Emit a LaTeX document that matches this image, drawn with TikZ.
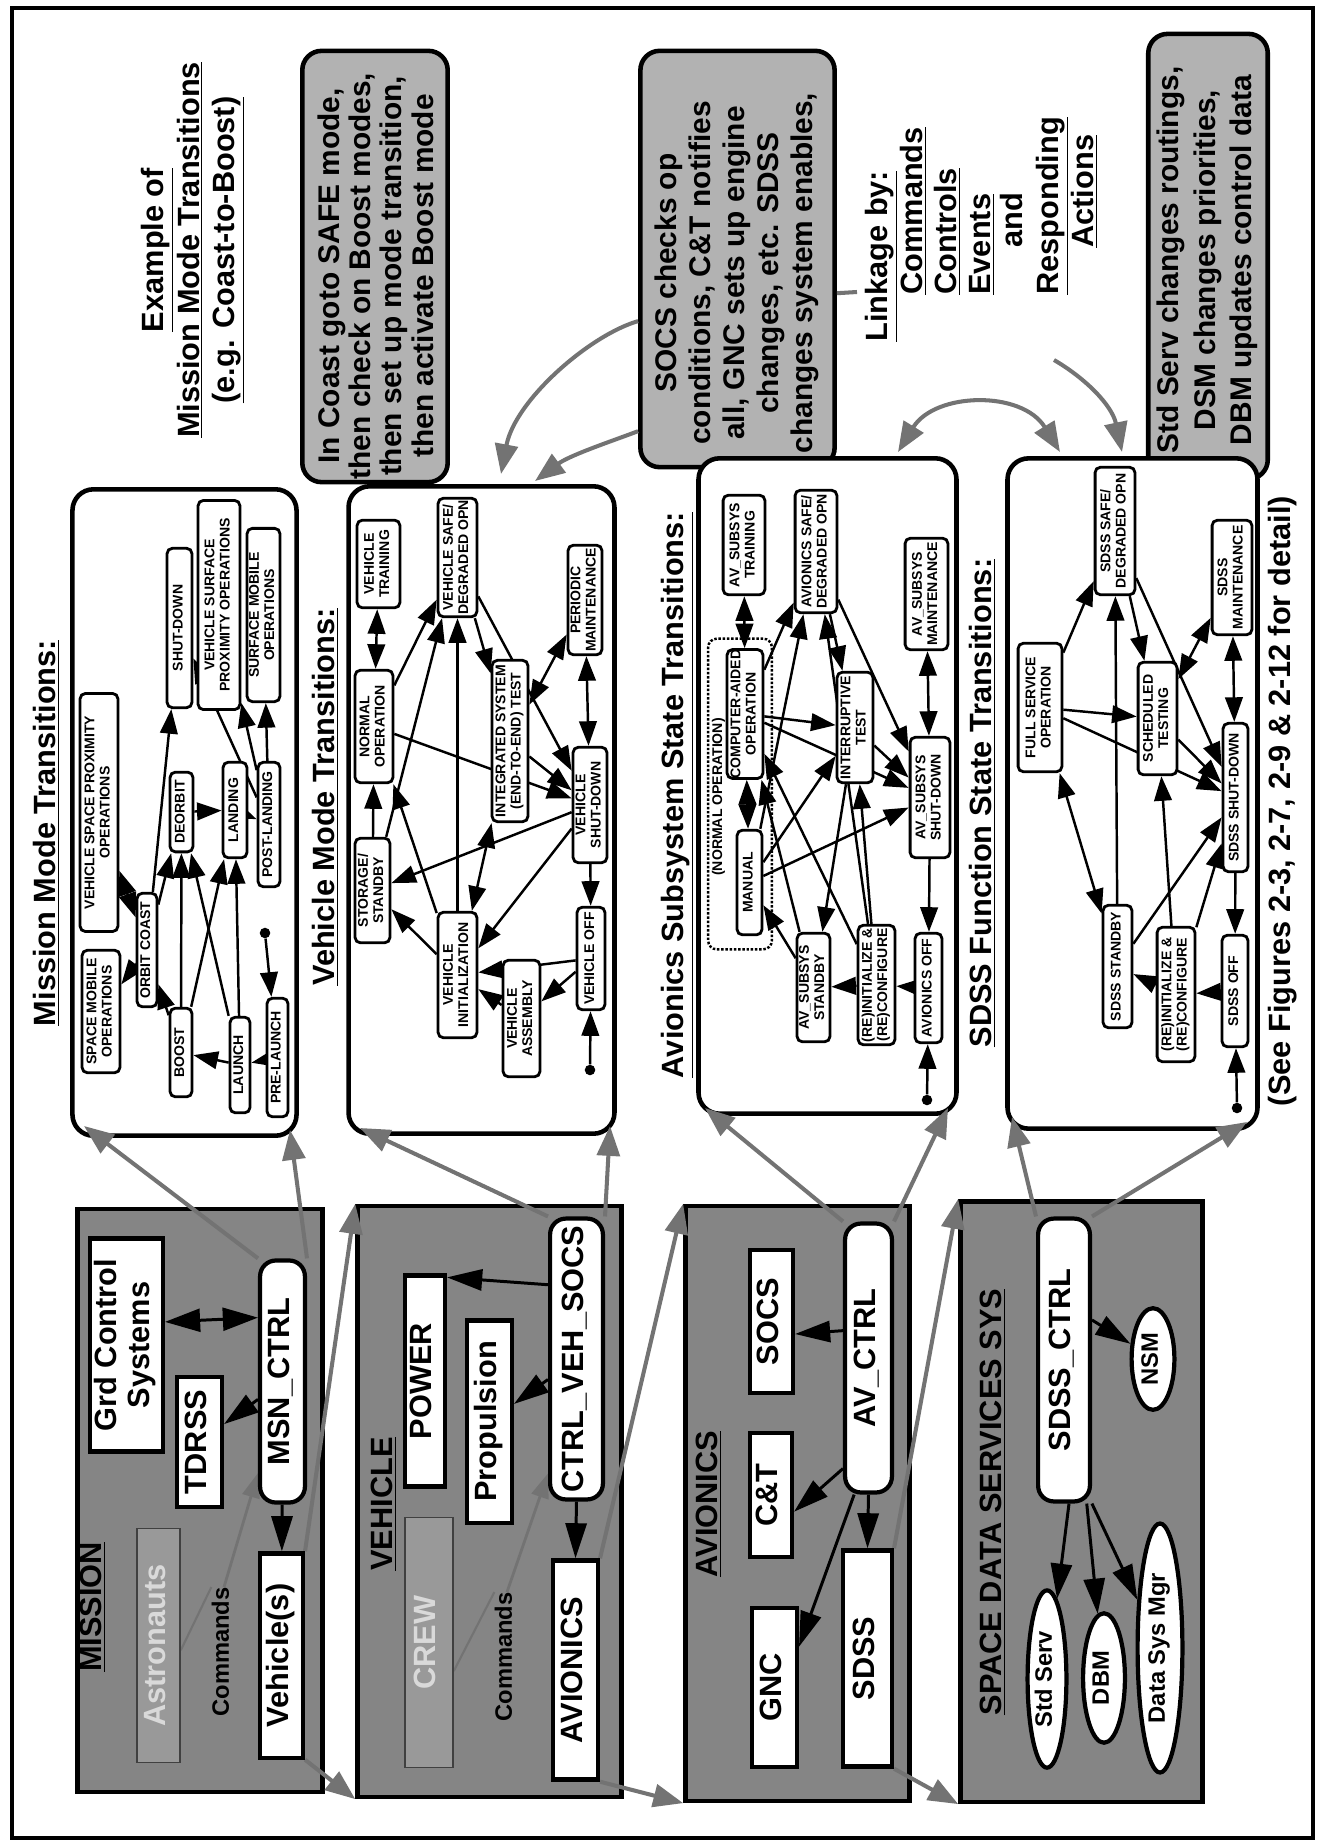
\documentclass[tikz,border=0pt]{standalone}
\usepackage{graphicx}
\usepackage{fontspec}
\setmainfont{Liberation Sans}
\usetikzlibrary{arrows.meta,shapes.geometric,calc}
\pgfdeclarelayer{back}
\pgfdeclarelayer{mid}
\pgfsetlayers{back,mid,main}
\newcommand\R[1]{\rotatebox{90}{\begin{tabular}{@{}c@{}}#1\end{tabular}}}
\newcommand\BX[7]{\node[#1,minimum width={(#5-#3)*0.5669pt},minimum height={(#6-#4)*0.5669pt}] (#2) at ({(#3+#5)/2},{(#4+#6)/2}) {\R{#7}};}
\newcommand\fB{\bfseries\fontsize{17.5}{18.5}\selectfont}
\newcommand\fI{\bfseries\fontsize{8}{8.7}\selectfont}
\newcommand\fS{\bfseries\fontsize{13.5}{14}\selectfont}
\tikzset{
 gbox/.style={draw, line width=2.6pt, fill=black!48, inner sep=0pt},
 wbox/.style={draw, line width=2.4pt, fill=white, inner sep=0pt, font=\fB},
 wrnd/.style={wbox, rounded corners=9pt},
 ghost/.style={draw=black!75, line width=1pt, fill=black!40, text=black!15, inner sep=0pt, font=\fB},
 panel/.style={draw, line width=2.6pt, fill=white, rounded corners=12pt, inner sep=0pt},
 callout/.style={draw, line width=2.6pt, fill=black!30, rounded corners=11pt, inner sep=0pt},
 st/.style={draw, line width=1.6pt, fill=white, rounded corners=3pt, inner sep=0pt, font=\fI},
 ndot/.style={draw, densely dotted, line width=1.4pt, rounded corners=5pt, inner sep=0pt},
 ell/.style={draw, ellipse, line width=2.4pt, fill=white, inner sep=0pt, font=\fS},
 lbl/.style={inner sep=0pt, font=\fB},
 dotn/.style={circle, fill, inner sep=0pt, minimum size=6pt},
 ar/.style={line width=1.4pt, -{Triangle[length=14pt,width=10pt]}},
 dar/.style={line width=1.4pt, arrows={Triangle[length=14pt,width=10pt]-Triangle[length=14pt,width=10pt]}},
 bar/.style={line width=1.7pt, -{Triangle[length=20pt,width=12pt]}},
 dbar/.style={line width=1.7pt, arrows={Triangle[length=20pt,width=13pt]-Triangle[length=20pt,width=13pt]}},
 har/.style={draw=black!55, line width=2.3pt, -{Triangle[length=17pt,width=13pt]}},
 dhar/.style={draw=black!55, line width=2.3pt, arrows={Triangle[length=17pt,width=13pt]-Triangle[length=17pt,width=13pt]}},
 thar/.style={draw=black!55, line width=1.6pt, -{Triangle[length=14pt,width=10pt]}},
 hline/.style={draw=black!55, line width=1.2pt},
}
\begin{document}
\begin{tikzpicture}[x=0.02cm,y=-0.02cm]
\useasboundingbox (0,0) rectangle (1317,1841);
\draw[line width=1.9pt] (12,8) rectangle (1313,1838);

% ================= background shapes =================
\begin{pgfonlayer}{back}
\BX{callout}{c1}{302}{50}{448}{483}{}
\BX{callout}{c2}{640}{50}{835}{468}{}
\BX{callout}{c3}{1148}{33}{1268}{480}{}
\BX{panel}{pM}{72}{488}{297}{1137}{}
\BX{panel}{pV}{348}{485}{615}{1135}{}
\BX{panel}{pA}{698}{457}{957}{1115}{}
\BX{panel}{pS}{1007}{457}{1258}{1130}{}
\BX{gbox}{gM}{77}{1208}{323}{1793}{}
\BX{gbox}{gV}{357}{1205}{622}{1798}{}
\BX{gbox}{gA}{685}{1205}{910}{1802}{}
\BX{gbox}{gS}{960}{1200}{1203}{1803}{}
\end{pgfonlayer}

% ---------- titles ----------
\node[lbl] (tMM) at (49,833) {\R{\underline{Mission Mode Transitions:}}};
\node[lbl] (tVM) at (328,797) {\R{\underline{Vehicle Mode Transitions:}}};
\node[lbl] (tAS) at (677,795) {\R{\underline{Avionics Subsystem State Transitions:}}};
\node[lbl] (tSF) at (985,803) {\R{\underline{SDSS Function State Transitions:}}};
\node[lbl] (tSee) at (1284,801) {\R{(See Figures 2-3, 2-7, 2-9 \& 2-12 for detail)}};
\node[lbl, font=\bfseries\fontsize{17.5}{20}\selectfont] (tEx) at (192,250) {\R{\underline{Example of}\\\underline{Mission Mode Transitions}\\\underline{(e.g. Coast-to-Boost)}}};

% ---------- linkage ----------
\node[lbl, anchor=south] (lk1) at (881,342) {\R{\underline{Linkage by:}}};
\node[lbl, anchor=south] (lk2) at (916,295) {\R{\underline{Commands}}};
\node[lbl, anchor=south] (lk3) at (950,295) {\R{\underline{Controls}}};
\node[lbl, anchor=south] (lk4) at (984,295) {\R{\underline{Events}}};
\node[lbl, anchor=south] (lk5) at (1016,248) {\R{and}};
\node[lbl, anchor=south] (lk6) at (1052,295) {\R{\underline{Responding}}};
\node[lbl, anchor=south] (lk7) at (1087,248) {\R{\underline{Actions}}};

% ---------- callout texts ----------
\node[lbl, font=\bfseries\fontsize{17}{17.8}\selectfont] (c1t) at (380,276) {\R{In Coast goto SAFE mode,\\then check on Boost modes,\\then set up mode transition,\\then activate Boost mode}};
\node[lbl, font=\bfseries\fontsize{17}{19.4}\selectfont] (c2t) at (738,273) {\R{SOCS checks op\\conditions, C\&T notifies\\all, GNC sets up engine\\changes, etc. SDSS\\changes system enables,}};
\node[lbl, font=\bfseries\fontsize{17}{20.7}\selectfont] (c3t) at (1208,260) {\R{Std Serv changes routings,\\DSM changes priorities,\\DBM updates control data}};

% ---------- mission modes ----------
\BX{st}{m1}{80}{693}{118}{932}{VEHICLE SPACE PROXIMITY\\OPERATIONS}
\BX{st}{m2}{137}{893}{157}{1007}{ORBIT COAST}
\BX{st}{m3}{82}{950}{120}{1073}{SPACE MOBILE\\OPERATIONS}
\BX{st}{m4}{170}{1008}{192}{1097}{BOOST}
\BX{st}{m5}{230}{1017}{250}{1113}{LAUNCH}
\BX{st}{m6}{267}{998}{288}{1117}{PRE-LAUNCH}
\BX{st}{m7}{170}{772}{193}{852}{DEORBIT}
\BX{st}{m8}{223}{762}{247}{858}{LANDING}
\BX{st}{m9}{258}{762}{280}{887}{POST-LANDING}
\BX{st}{m10}{167}{548}{192}{708}{SHUT-DOWN}
\BX{st}{m11}{198}{500}{240}{710}{VEHICLE SURFACE\\PROXIMITY OPERATIONS}
\BX{st}{m12}{247}{528}{280}{702}{SURFACE MOBILE\\OPERATIONS}
\node[dotn] (mdot) at (265,933) {};

% ---------- vehicle modes ----------
\BX{st}{v1}{357}{520}{400}{608}{VEHICLE\\TRAINING}
\BX{st}{v2}{355}{670}{393}{783}{NORMAL\\OPERATION}
\BX{st}{v3}{355}{838}{390}{943}{STORAGE/\\STANDBY}
\BX{st}{v4}{438}{498}{477}{617}{VEHICLE SAFE/\\DEGRADED OPN}
\BX{st}{v5}{492}{660}{528}{822}{INTEGRATED SYSTEM\\(END-TO-END) TEST}
\BX{st}{v6}{568}{545}{602}{655}{PERIODIC\\MAINTENANCE}
\BX{st}{v7}{573}{747}{607}{863}{VEHICLE\\SHUT-DOWN}
\BX{st}{v8}{438}{912}{477}{1038}{VEHICLE\\INITIALIZATION}
\BX{st}{v9}{503}{960}{540}{1077}{VEHICLE\\ASSEMBLY}
\BX{st}{v10}{577}{907}{605}{1010}{VEHICLE OFF}
\node[dotn] (vdot) at (590,1070) {};

% ---------- avionics states ----------
\BX{ndot}{anorm}{708}{638}{772}{950}{}
\node[inner sep=0pt, font=\fI] (anl) at (719,797) {\R{(NORMAL OPERATION)}};
\BX{st}{a1}{723}{495}{765}{595}{AV\_SUBSYS\\TRAINING}
\BX{st}{a2}{795}{490}{837}{613}{AVIONICS SAFE/\\DEGRADED OPN}
\BX{st}{a3}{727}{650}{763}{778}{COMPUTER-AIDED\\OPERATION}
\BX{st}{a4}{737}{830}{762}{935}{MANUAL}
\BX{st}{a5}{837}{672}{873}{783}{INTERRUPTIVE\\TEST}
\BX{st}{a6}{905}{538}{948}{650}{AV\_SUBSYS\\MAINTENANCE}
\BX{st}{a7}{910}{737}{950}{858}{AV\_SUBSYS\\SHUT-DOWN}
\BX{st}{a8}{797}{933}{830}{1042}{AV\_SUBSYS\\STANDBY}
\BX{st}{a9}{858}{925}{895}{1045}{(RE)INITIALIZE \&\\(RE)CONFIGURE}
\BX{st}{a10}{915}{933}{942}{1043}{AVIONICS OFF}
\node[dotn] (adot) at (927,1100) {};

% ---------- sdss states ----------
\BX{st}{s1}{1095}{467}{1135}{595}{SDSS SAFE/\\DEGRADED OPN}
\BX{st}{s2}{1212}{520}{1252}{635}{SDSS\\MAINTENANCE}
\BX{st}{s3}{1018}{643}{1062}{772}{FULL SERVICE\\OPERATION}
\BX{st}{s4}{1138}{662}{1177}{775}{SCHEDULED\\TESTING}
\BX{st}{s5}{1223}{723}{1248}{872}{SDSS SHUT-DOWN}
\BX{st}{s6}{1103}{905}{1132}{1028}{SDSS STANDBY}
\BX{st}{s7}{1157}{927}{1195}{1062}{(RE)INITIALIZE \&\\(RE)CONFIGURE}
\BX{st}{s8}{1222}{935}{1248}{1047}{SDSS OFF}
\node[dotn] (sdot) at (1237,1108) {};

% ---------- gray system box contents ----------
\node[lbl] (tM) at (95,1607) {\R{\underline{MISSION}}};
\node[lbl] (tV) at (386,1504) {\R{\underline{VEHICLE}}};
\node[lbl] (tA) at (711,1504) {\R{\underline{AVIONICS}}};
\node[lbl] (tS) at (995,1502) {\R{\underline{SPACE DATA SERVICES SYS}}};

\BX{ghost}{astro}{137}{1528}{180}{1763}{Astronauts}
\node[lbl, font=\fS] (comM) at (224,1652) {\R{Commands}};
\BX{wbox}{vehs}{260}{1553}{303}{1758}{Vehicle(s)}
\BX{wrnd}{msn}{260}{1260}{305}{1503}{MSN\_CTRL}
\BX{wbox}{tdrss}{177}{1377}{222}{1507}{TDRSS}
\BX{wbox}{grd}{90}{1238}{163}{1452}{Grd Control\\Systems}

\BX{wbox}{power}{405}{1275}{445}{1487}{POWER}
\BX{ghost}{crew}{405}{1517}{453}{1768}{CREW}
\BX{wbox}{prop}{467}{1320}{512}{1523}{Propulsion}
\BX{wrnd}{cvs}{550}{1218}{603}{1500}{CTRL\_VEH\_SOCS}
\BX{wbox}{avb}{553}{1560}{598}{1780}{AVIONICS}
\node[lbl, font=\fS] (comV) at (507,1657) {\R{Commands}};

\BX{wbox}{gnc}{752}{1608}{797}{1767}{GNC}
\BX{wbox}{ct}{750}{1433}{792}{1557}{C\&T}
\BX{wbox}{socs}{750}{1250}{793}{1393}{SOCS}
\BX{wrnd}{avc}{845}{1223}{892}{1493}{AV\_CTRL}
\BX{wbox}{sdss}{843}{1550}{892}{1767}{SDSS}

\BX{wrnd}{sdc}{1038}{1218}{1090}{1502}{SDSS\_CTRL}
\node[ell, minimum width=43*0.5669pt, minimum height=102*0.5669pt] (nsm) at (1153,1359) {\R{NSM}};
\node[ell, minimum width=39*0.5669pt, minimum height=178*0.5669pt] (stds) at (1047,1679) {\R{Std Serv}};
\node[ell, minimum width=42*0.5669pt, minimum height=130*0.5669pt] (dbm) at (1104,1678) {\R{DBM}};
\node[ell, minimum width=45*0.5669pt, minimum height=250*0.5669pt] (dsm) at (1160,1648) {\R{Data Sys Mgr}};

\coordinate (pMbl) at (84,1126);  \coordinate (pMbr) at (290,1130);
\coordinate (pVbl) at (360,1128); \coordinate (pVbr) at (610,1126);
\coordinate (pAbl) at (705,1108); \coordinate (pAbr) at (948,1108);
\coordinate (pSbl) at (1012,1117); \coordinate (pSbr) at (1247,1122);
\coordinate (vt1) at (501,474);
\coordinate (vt2) at (535,481);
\coordinate (at1) at (898,452);
\coordinate (st1) at (1060,452);
\coordinate (lkA) at (1054,360);
\coordinate (st2) at (1122,452);
\coordinate (lkB) at (857,292);

% ================= connectors =================
\begin{pgfonlayer}{mid}
% mission
\draw[ar] (mdot) -- (m6);
\draw[ar] (m6) -- (m5);
\draw[ar] (m5) -- (m4);
\draw[ar] (m4) -- (m2);
\draw[dar] (m2) -- (m1);
\draw[dar] (m2) -- (m3);
\draw[ar] (m2) -- (m7);
\draw[ar] (m2) -- (m10);
\draw[ar] (m7) -- (m8);
\draw[ar] (m8) -- (m9);
\draw[ar] (m9) -- (m10);
\draw[ar] (m9) -- (m11);
\draw[ar] (m9) -- (m12);
\draw[ar] (m4) -- (m7);
\draw[ar] (m5) -- (m8);
\draw[ar] (m4) -- (m8);
\draw[ar] (m5) -- (m7);
% vehicle
\draw[dar] (v1) -- (v2);
\draw[ar] (vdot) -- (v10);
\draw[ar] (v10) -- (v9);
\draw[ar] (v10) -- (v8);
\draw[ar] (v9) -- (v8);
\draw[ar] (v8) -- (v3);
\draw[ar] (v8) -- (v2);
\draw[ar] (v8) -- (v4);
\draw[dar] (v8) -- (v5);
\draw[ar] (v3) -- (v2);
\draw[ar] (v3) -- (v4);
\draw[ar] (v2) -- (v4);
\draw[ar] (v2) -- (v7);
\draw[ar] (v4) -- (v5);
\draw[ar] (v4) -- (v7);
\draw[ar] (v5) -- (v7);
\draw[dar] (v5) -- (v6);
\draw[dar] (v6) -- (v7);
\draw[ar] (v7) -- (v10);
\draw[ar] (v7) -- (v3);
\draw[ar] (v7) -- (v8);
% avionics
\draw[dar] (a1) -- (a3);
\draw[dar] (a3) -- (a4);
\draw[ar] (a3) -- (a2);
\draw[ar] (a3) -- (a5);
\draw[ar] (a3) -- (a7);
\draw[ar] (a4) -- (a2);
\draw[ar] (a4) -- (a5);
\draw[ar] (a4) -- (a7);
\draw[ar] (a2) -- (a5);
\draw[ar] (a2) -- (a7);
\draw[ar] (a5) -- (a7);
\draw[dar] (a6) -- (a7);
\draw[ar] (a7) -- (a10);
\draw[ar] (adot) -- (a10);
\draw[ar] (a10) -- (a9);
\draw[ar] (a9) -- (a8);
\draw[ar] (a8) -- (a3);
\draw[ar] (a8) -- (a4);
\draw[ar] (a9) -- (a2);
\draw[ar] (a9) -- (a5);
\draw[ar] (a9) -- (a3);
\draw[ar] (a5) -- (a8);
% sdss
\draw[ar] (s3) -- (s1);
\draw[ar] (s3) -- (s4);
\draw[ar] (s3) -- (s5);
\draw[dar] (s3) -- (s6);
\draw[ar] (s1) -- (s4);
\draw[ar] (s1) -- (s5);
\draw[dar] (s4) -- (s2);
\draw[dar] (s2) -- (s5);
\draw[ar] (s4) -- (s5);
\draw[ar] (s6) -- (s1);
\draw[ar] (s6) -- (s5);
\draw[ar] (s7) -- (s4);
\draw[ar] (s7) -- (s6);
\draw[ar] (s7) -- (s5);
\draw[ar] (s8) -- (s7);
\draw[ar] (s5) -- (s8);
\draw[ar] (sdot) -- (s8);
% gray boxes
\draw[hline] (astro.-12) -- (comM.north west);
\draw[thar] (comM.north) -- (msn.255);
\draw[bar] (msn) -- (vehs);
\draw[bar] (msn) -- (tdrss);
\draw[dbar] (grd.31) -- (msn.111);
\draw[hline] (crew.-49) -- (comV.north west);
\draw[thar] (comV.north) -- (cvs.256);
\draw[bar] (cvs.south) -- (avb.north);
\draw[bar] (cvs) -- (prop);
\draw[bar] (cvs.111) -- (power.78);
\draw[bar] (avc.133) -- (socs.-28);
\draw[bar] (avc.257) -- (ct.-36);
\draw[bar] (avc.264) -- (gnc.59);
\draw[bar] (avc.south) -- (sdss.north);
\draw[bar] (sdc.55) -- (nsm.146);
\draw[bar] (sdc.-88) -- (stds);
\draw[bar] (sdc.-81) -- (dbm);
\draw[bar] (sdc.-79) -- (dsm);
% inter-level
\draw[har] (vehs.north east) -- (gV.north west);
\draw[har] (vehs.south east) -- (gV.south west);
\draw[har] (avb.north east) -- (gA.north west);
\draw[har] (avb.south east) -- (gA.south west);
\draw[har] (sdss.north east) -- (gS.north west);
\draw[har] (sdss.south east) -- (gS.south west);
\draw[har] (msn.north west) -- (pMbl);
\draw[har] (msn.north east) -- (pMbr);
\draw[har] (cvs.north west) -- (pVbl);
\draw[har] (cvs.north east) -- (pVbr);
\draw[har] (avc.north west) -- (pAbl);
\draw[har] (avc.north east) -- (pAbr);
\draw[har] (sdc.north west) -- (pSbl);
\draw[har] (sdc.north east) -- (pSbr);
% top arcs
\draw[har] (c2.212) .. controls (590,335) and (515,400) .. (vt1);
\draw[har] (c2.240) .. controls (615,440) and (570,455) .. (vt2);
\draw[dhar] (at1) .. controls (935,392) and (1022,390) .. (st1);
\draw[har] (lkA) .. controls (1085,378) and (1112,405) .. (st2);
\draw[draw=black!55, line width=2.3pt] (c2.-19) -- (lkB);
\end{pgfonlayer}
\end{tikzpicture}
\end{document}
